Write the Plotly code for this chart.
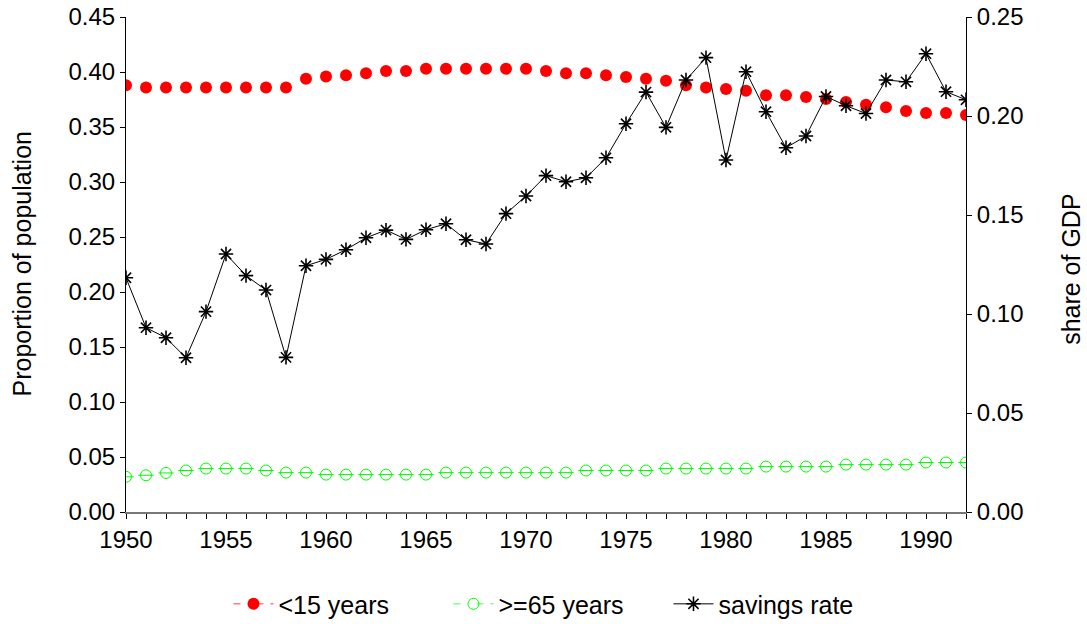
import plotly.graph_objects as go

years = [1950, 1951, 1952, 1953, 1954, 1955, 1956, 1957, 1958, 1959,
         1960, 1961, 1962, 1963, 1964, 1965, 1966, 1967, 1968, 1969,
         1970, 1971, 1972, 1973, 1974, 1975, 1976, 1977, 1978, 1979,
         1980, 1981, 1982, 1983, 1984, 1985, 1986, 1987, 1988, 1989,
         1990, 1991, 1992]

under15 = [0.388, 0.386, 0.386, 0.386, 0.386, 0.386, 0.386, 0.386, 0.386, 0.394,
           0.396, 0.397, 0.399, 0.401, 0.401, 0.403, 0.403, 0.403, 0.403, 0.403,
           0.403, 0.401, 0.399, 0.399, 0.397, 0.3955, 0.394, 0.392, 0.388, 0.386,
           0.3845, 0.383, 0.379, 0.379, 0.3773, 0.3755, 0.3727, 0.3703, 0.368, 0.3645,
           0.3627, 0.3627, 0.361]

over65 = [0.032, 0.0334, 0.0355, 0.0377, 0.0395, 0.0395, 0.0395, 0.0377, 0.0358, 0.0358,
          0.034, 0.034, 0.034, 0.034, 0.034, 0.034, 0.0358, 0.0358, 0.0358, 0.0358,
          0.0358, 0.0358, 0.0358, 0.0377, 0.0377, 0.0377, 0.0377, 0.0395, 0.0395, 0.0395,
          0.0395, 0.0395, 0.0413, 0.0413, 0.0413, 0.0413, 0.0431, 0.0431, 0.0431, 0.0431,
          0.045, 0.045, 0.045]

savings = [0.1183, 0.0931, 0.0880, 0.0779, 0.1012, 0.1303, 0.1194, 0.1121, 0.0781, 0.1244,
           0.1276, 0.1325, 0.1385, 0.1424, 0.1377, 0.1426, 0.1456, 0.1375, 0.1354, 0.1507,
           0.1596, 0.1699, 0.1668, 0.1688, 0.1789, 0.1961, 0.2121, 0.1943, 0.2182, 0.2295,
           0.1778, 0.2224, 0.2022, 0.1840, 0.1899, 0.2099, 0.2052, 0.2013, 0.2182, 0.2173,
           0.2315, 0.2123, 0.2082]

series_names = ["<15 years", ">=65 years", "savings rate"]
left_ticks = [0.00, 0.05, 0.10, 0.15, 0.20, 0.25, 0.30, 0.35, 0.40, 0.45]
right_ticks = [0.00, 0.05, 0.10, 0.15, 0.20, 0.25]
left_title = "Proportion of population"
right_title = "share of GDP"

FONT = "Liberation Sans, Arial, sans-serif"

fig = go.Figure()

# >=65 years: open circle with a horizontal bar
fig.add_trace(go.Scatter(x=years, y=over65, mode="markers", showlegend=False,
                         marker=dict(symbol="circle-open", size=11, color="#00ff00",
                                     line=dict(width=1, color="#00ff00"))))
fig.add_trace(go.Scatter(x=years, y=over65, mode="markers", showlegend=False,
                         marker=dict(symbol="line-ew-open", size=11, color="#00ff00",
                                     line=dict(width=1, color="#00ff00"))))
# <15 years
fig.add_trace(go.Scatter(x=years, y=under15, mode="markers", showlegend=False,
                         marker=dict(symbol="circle", size=12, color="#ff0000")))
# savings rate on right axis
fig.add_trace(go.Scatter(x=years, y=savings, mode="lines+markers", showlegend=False,
                         yaxis="y2", line=dict(color="black", width=1),
                         marker=dict(symbol="asterisk-open", size=12, color="black",
                                     line=dict(width=1.6, color="black"))))

# legend entries
fig.add_trace(go.Scatter(x=[None], y=[None], mode="lines+markers", name=series_names[0],
                         line=dict(color="#ff8080", width=1.5, dash="7px,16px,7px"),
                         marker=dict(symbol="circle", size=12, color="#ff0000")))
fig.add_trace(go.Scatter(x=[None], y=[None], mode="lines+markers", name=series_names[1],
                         line=dict(color="#80ff80", width=1.5, dash="7px,16px,7px"),
                         marker=dict(symbol="circle-open", size=11, color="#00ff00",
                                     line=dict(width=1, color="#00ff00"))))
fig.add_trace(go.Scatter(x=[None], y=[None], mode="lines+markers", name=series_names[2],
                         line=dict(color="#555555", width=1.5),
                         marker=dict(symbol="asterisk-open", size=12, color="black",
                                     line=dict(width=1.6, color="black"))))

fig.update_layout(
    width=1087, height=624,
    margin=dict(l=126, r=121, t=17, b=112, autoexpand=False),
    paper_bgcolor="white", plot_bgcolor="white",
    font=dict(family=FONT, size=24, color="black"),
    showlegend=True,
    legend=dict(orientation="h", x=0.122, xanchor="left", y=-0.186, yanchor="middle",
                font=dict(family=FONT, size=25, color="black"),
                bgcolor="rgba(0,0,0,0)", itemwidth=40, traceorder="normal",
                entrywidth=165, entrywidthmode="pixels"),
    xaxis=dict(range=[1950, 1992], tickmode="linear", tick0=1950, dtick=5,
               ticks="outside", ticklen=5, tickcolor="black", tickwidth=1,
               minor=dict(dtick=1, tick0=1950, ticks="outside", ticklen=5,
                          tickcolor="black", tickwidth=1),
               showline=True, linecolor="#777777", linewidth=2,
               showgrid=False, zeroline=False, automargin=False,
               ticklabeloverflow="allow",
               tickfont=dict(family=FONT, size=24)),
    yaxis=dict(range=[0, 0.45005], tickvals=left_ticks, tickformat=".2f",
               ticks="outside", ticklen=5, tickcolor="black",
               showline=True, linecolor="black", linewidth=1,
               showgrid=False, zeroline=False, automargin=False,
               ticklabeloverflow="allow",
               tickfont=dict(family=FONT, size=24)),
    yaxis2=dict(range=[0, 0.25003], tickvals=right_ticks, tickformat=".2f",
                overlaying="y", side="right",
                ticks="outside", ticklen=5, tickcolor="black",
                showline=True, linecolor="black", linewidth=1,
                showgrid=False, zeroline=False, automargin=False,
                ticklabeloverflow="allow",
                tickfont=dict(family=FONT, size=24)),
    annotations=[
        dict(text=left_title, xref="paper", yref="paper", x=-0.125, y=0.5,
             xanchor="center", yanchor="middle", textangle=-90, showarrow=False,
             font=dict(family=FONT, size=25, color="black")),
        dict(text=right_title, xref="paper", yref="paper", x=1.1255, y=0.49,
             xanchor="center", yanchor="middle", textangle=-90, showarrow=False,
             font=dict(family=FONT, size=25, color="black")),
    ],
)

fig.write_html("out.html", config={"displayModeBar": False},
               post_script="document.body.style.margin='0';document.body.style.overflow='hidden';")
